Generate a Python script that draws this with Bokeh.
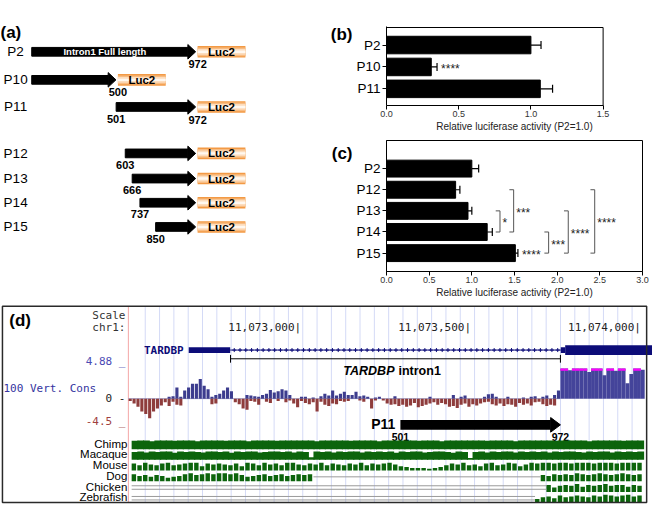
import numpy as np
from bokeh.plotting import figure
from bokeh.models import (Range1d, FixedTicker, NumeralTickFormatter,
                          Whisker, TeeHead, ColumnDataSource)
from bokeh.layouts import row, column
from bokeh.core.properties import value
from bokeh.embed import file_html
from bokeh.resources import INLINE

SANS = "Liberation Sans"
MONO = "DejaVu Sans Mono"

# ====================== DATA ======================
# (a) reporter constructs
constructs = ["P2", "P10", "P11", "P12", "P13", "P14", "P15"]
start_nt = [1, 1, 501, 603, 666, 737, 850]
end_nt = [972, 500, 972, 972, 972, 972, 972]
start_label = ["", "", "501", "603", "666", "737", "850"]
end_label = ["972", "500", "972", "", "", "", ""]
# the schematic is not to scale: start as drawn (nt units of the drawing)
start_drawn = [1, 1, 501, 555, 596, 642, 735]

# (b) luciferase activity
b_names = ["P2", "P10", "P11"]
b_mean = [1.00, 0.31, 1.065]
b_err = [0.07, 0.04, 0.085]
b_sig = ["", "****", ""]

# (c) luciferase activity
c_names = ["P2", "P12", "P13", "P14", "P15"]
c_mean = [1.00, 0.81, 0.955, 1.18, 1.51]
c_err = [0.08, 0.05, 0.045, 0.06, 0.03]
c_sig = ["", "", "", "", "****"]
br_from = ["P13", "P12", "P14", "P13", "P12"]
br_to = ["P14", "P14", "P15", "P15", "P15"]
br_label = ["*", "***", "***", "****", "****"]
br_x = [1.33, 1.49, 1.90, 2.13, 2.44]

# (d) genome browser view chr1
view_start, view_end = 11072124, 11074043
ruler_pos = [11073000, 11073500, 11074000]
exon1_start, exon1_end = 11072678, 11072800
intron_start, intron_end = 11072801, 11073772
exon2_start, cds_start = 11073773, 11073786
p11_from, p11_to = 501, 972
cons_start = 11072500
block_end = 11074020
cons_max, cons_min = 4.88, -4.5
cons_pos = [0, 0, 0, 0, 0, 0, 0, 0, 0, 0,
            0.3, 0.4, 1.8, 0.3, 1.3, 1.8, 2.4, 2.4, 3.2, 2.1,
            1.5, 0.3, 0.6, 0.8, 1.3, 1.8, 1.2, 0, 0, 0,
            0.6, 0.5, 0.4, 0.3, 0.6, 0.8, 1.4, 1.0, 1.2, 1.5,
            1.3, 0.6, 0, 0, 0.3, 0.3, 0, 0.2, 0, 0.4,
            0.8, 0.5, 1.3, 0.5, 0.8, 1.1, 0.6, 0.6, 1.1, 0.4,
            0.5, 0.3, 0, 0.2, 0.3, 0, 0, 0, 0.4, 0,
            0, 0, 0, 0, 0, 0, 0, 0.3, 0, 0,
            0, 0, 0, 0.6, 0, 0.3, 0.5, 0, 0, 0,
            0, 0.3, 0.7, 0.8, 0.3, 0, 0, 0.3, 0, 0,
            0, 0.2, 0, 0.3, 0.4, 0, 0.3, 0.5, 0, 0.6,
            1.3]
cons_neg = [-0.4, -0.8, -1.3, -2.1, -2.5, -3.2, -2.1, -1.6, -1.1, -0.6,
            -1.2, -0.5, -1.0, -1.1, 0, 0, 0, 0, 0, 0,
            0, -0.9, -0.8, 0, 0, 0, 0, -0.6, -0.9, -1.6,
            -1.8, -0.4, -0.5, -1.0, 0, -0.5, -0.7, 0, -0.4, 0,
            -0.6, -0.3, -0.8, -1.4, -0.4, -0.7, -0.9, -0.6, -2.1, -0.5,
            -1.0, -1.2, -0.8, -0.9, -0.4, -0.5, -0.4, 0, 0, -0.3,
            -0.5, 0, -1.6, -0.3, 0, -0.3, -0.8, -1.0, -0.9, -1.2,
            -1.0, -1.3, -1.1, -0.7, -1.4, -1.2, -1.0, -0.8, -0.6, -1.0,
            -0.7, -0.9, -1.3, -1.2, -1.5, -1.0, -0.8, -1.3, -0.9, -1.1,
            -0.8, -0.6, -0.5, -0.9, -1.1, -0.8, -1.2, -0.9, -1.0, -1.3,
            -0.7, -1.0, -0.8, -1.1, -0.6, -0.5, -0.9, -1.2, -1.0, -1.1,
            0]
cons_block = [4.88, 4.88, 4.6, 4.88, 4.88, 4.88, 4.88, 4.3, 4.88, 4.88, 4.88,
              3.8, 4.88, 4.88, 4.5, 4.88, 4.88, 2.5, 4.0, 4.88, 4.88, 4.7]

species = ["Chimp", "Macaque", "Mouse", "Dog", "Chicken", "Zebrafish"]
spec_start, spec_end = 11072510, 11074015
chimp = [0.95, 1, 1, 0.9, 1, 1, 1, 0.95, 1, 1,
         1, 0.9, 1, 1, 1, 1, 0.95, 1, 1, 1,
         0.9, 1, 1, 1, 1, 0.95, 1, 1, 1, 1,
         1, 1, 0.9, 1, 1, 1, 1, 1, 0.95, 1,
         1, 1, 1, 0.9, 1, 1, 1, 1, 1, 1,
         0.95, 1, 1, 1, 0.9, 1, 1, 1, 1, 1,
         1, 1, 0.95, 1, 1, 1, 1, 0.9, 1, 1,
         1, 1, 1, 1, 0.95, 1, 1, 1, 1, 1,
         0.9, 1, 1, 1, 1, 1, 0.95, 1, 1, 1]
macaque = [0.9, 0.95, 0.85, 0.95, 0.9, 0.95, 0.95, 0.8, 0.95, 0.9,
           0.95, 0.9, 0.85, 0.95, 0.95, 0.9, 0.95, 0.8, 0.95, 0.9,
           0.95, 0.95, 0.85, 0.9, 0.95, 0.95, 0.9, 0.95, 0.85, 0.95,
           0.9, 0.3, 0.95, 0.9, 0.95, 0.85, 0.95, 0.9, 0.95, 0.95,
           0.85, 0.95, 0.9, 0.95, 0.9, 0.95, 0.8, 0.95, 0.9, 0.95,
           0.95, 0.85, 0.9, 0.95, 0.95, 0.9, 0.8, 0.95, 0.9, 0.2,
           0.9, 0.95, 0.85, 0.95, 0.9, 0.95, 0.95, 0.85, 0.95, 0.9,
           0.95, 0.9, 0.95, 0.85, 0.95, 0.9, 0.95, 0.95, 0.9, 0.85,
           0.95, 0.9, 0.95, 0.95, 0.85, 0.95, 0.9, 0.95, 0.9, 0.95]
mouse = [0.8, 0.6, 0.9, 0.7, 0.6, 0.8, 0.9, 0.6, 0.7, 0.8,
         0.9, 0.9, 0.5, 0.8, 0.7, 0.8, 0.7, 0.6, 0.8, 0.5,
         0.9, 0.8, 0.6, 0.9, 0.7, 0.8, 0.6, 0.9, 0.9, 0.7,
         0.6, 0.8, 0.7, 0.9, 0.6, 0.8, 0.7, 0.6, 0.8, 0.7,
         0.9, 0.6, 0.8, 0.7, 0.8, 0.9, 0.7, 0.5, 0.4, 0.3,
         0.3, 0.3, 0.2, 0.3, 0.4, 0.6, 0.8, 0.7, 0.9, 0.6,
         0.7, 0.5, 0.8, 0.9, 0.6, 0.7, 0.9, 0.8, 0.5, 0.7,
         0.9, 0.8, 0.9, 0.9, 0.8, 0.9, 0.9, 0.8, 0.9, 0.9,
         0.9, 0.8, 0.9, 0.9, 0.9, 0.8, 0.9, 0.9, 0.9, 0.9]
dog = [0.8, 0.6, 0.7, 0.5, 0.7, 0.6, 0.4, 0.5, 0.6, 0.8,
       0.9, 0.7, 0.8, 0.9, 0.8, 0.9, 0.9, 0.8, 0.9, 0.7,
       0.5, 0.6, 0.7, 0.8, 0.6, 0.7, 0.8, 0.6, 0.7, 0.8,
       0.7, 0.8, 0, 0, 0, 0, 0, 0, 0, 0,
       0, 0, 0, 0, 0, 0, 0, 0, 0, 0,
       0, 0, 0, 0, 0, 0, 0, 0, 0, 0,
       0, 0, 0, 0, 0, 0, 0, 0, 0, 0,
       0, 0, 0.7, 0.6, 0.8, 0.7, 0.8, 0.7, 0.9, 0.8,
       0.7, 0.8, 0.9, 0.8, 0.7, 0.8, 0.9, 0.8, 0.7, 0.8]
chicken = [0, 0, 0, 0, 0, 0, 0, 0, 0, 0,
           0, 0, 0, 0, 0, 0, 0, 0, 0, 0,
           0, 0, 0, 0, 0, 0, 0, 0, 0, 0,
           0, 0, 0, 0, 0, 0, 0, 0, 0, 0,
           0, 0, 0, 0, 0, 0, 0, 0, 0, 0,
           0, 0, 0, 0, 0, 0, 0, 0, 0, 0,
           0, 0, 0, 0, 0, 0, 0, 0, 0, 0,
           0, 0, 0, 0.8, 0.5, 0.7, 0.8, 0.7, 0.9, 0.6,
           0.8, 0.7, 0.8, 0.9, 0.7, 0.8, 0.8, 0.6, 0.8, 0.7]
zebrafish = [0, 0, 0, 0, 0, 0, 0, 0, 0, 0,
             0, 0, 0, 0, 0, 0, 0, 0, 0, 0,
             0, 0, 0, 0, 0, 0, 0, 0, 0, 0,
             0, 0, 0, 0, 0, 0, 0, 0, 0, 0,
             0, 0, 0, 0, 0, 0, 0, 0, 0, 0,
             0, 0, 0, 0, 0, 0, 0, 0, 0, 0,
             0, 0, 0, 0, 0, 0, 0, 0, 0, 0,
             0, 0.4, 0.6, 0.7, 0.5, 0.8, 0.6, 0.7, 0.8, 0.7,
             0.6, 0.8, 0.7, 0.9, 0.8, 0.7, 0.8, 0.9, 0.7, 0.8]
species_vals = [chimp, macaque, mouse, dog, chicken, zebrafish]


# ====================== HELPERS ======================
def blank_fig(w, h, xr, yr):
    p = figure(width=w, height=h, x_range=xr, y_range=yr, output_backend="svg",
               toolbar_location=None, x_axis_type=None, y_axis_type=None,
               min_border=0)
    p.outline_line_color = None
    p.background_fill_color = "white"
    return p


def txt(p, x, y, t, size, align="center", color="black", style="normal",
        font=SANS, **kw):
    p.text(x=x, y=y, text=t, text_font=value(font), text_font_size=size,
           text_align=align, text_baseline="middle", text_color=color,
           text_font_style=style, **kw)


# ====================== PANEL (a) ======================
# left panel also carries the "(b)" / "(c)" letters at its right edge
nt_per_px = 971 / 168.0
PA_W = 353
sx = 322 / 330.0
pa = blank_fig(PA_W, 300,
               Range1d(1 - 32 * nt_per_px, 1 + (PA_W / sx - 32) * nt_per_px),
               Range1d(310, 0))
row_y = [53, 82, 110, 158, 184, 209, 234]
head = 8 * nt_per_px
luc_gap, luc_len = 2 * nt_per_px, 49 * nt_per_px

pa.quad(left=start_drawn, right=[e - head for e in end_nt],
        top=[y - 4.5 for y in row_y], bottom=[y + 4.5 for y in row_y],
        fill_color="black", line_color="black")
pa.patches(xs=[[e - head, e, e - head] for e in end_nt],
           ys=[[y - 7.5, y, y + 7.5] for y in row_y],
           fill_color="black", line_color="black")
for hh, col in [(12, "#F39A45"), (9, "#F8BC82"), (6, "#FCDDBE"), (2.5, "#FFF8F0")]:
    pa.quad(left=[e + luc_gap for e in end_nt],
            right=[e + luc_gap + luc_len for e in end_nt],
            top=[y - hh / 2 for y in row_y], bottom=[y + hh / 2 for y in row_y],
            fill_color=col, line_color=None)
txt(pa, [e + luc_gap + luc_len / 2 for e in end_nt], row_y, ["Luc2"] * 7,
    "11.5px", style="bold")
txt(pa, [1 - 16.5 * nt_per_px] * 7, row_y, constructs, "13.5px")
txt(pa, [s for s, l in zip(start_drawn, start_label) if l],
    [y + 12 for y, l in zip(row_y, start_label) if l],
    [l for l in start_label if l], "11px", style="bold")
txt(pa, [e + 2 * nt_per_px for e, l in zip(end_nt, end_label) if l],
    [y + 13 for y, l in zip(row_y, end_label) if l],
    [l for l in end_label if l], "11px", style="bold")
txt(pa, [(start_drawn[0] + end_nt[0] - head) / 2 - 5 * nt_per_px], [row_y[0]],
    ["Intron1 Full length"], "9.5px", color="white", style="bold")
txt(pa, [1 - 32 * nt_per_px], [33], ["(a)"], "17px", align="left", style="bold")
x_right = 1 + (PA_W / sx - 33) * nt_per_px
txt(pa, [x_right, x_right], [35, 158], ["(b)", "(c)"], "17px", align="right",
    style="bold")


# ====================== PANELS (b), (c) ======================
def bar_panel(names, mean, err, sig, xr, xmax, xticks, w, h, yr, borders,
              own_box=False):
    n = len(names)
    p = figure(width=w, height=h, x_range=xr, y_range=yr,
               output_backend="svg", toolbar_location=None,
               min_border_left=borders[0], min_border_right=borders[1],
               min_border_top=borders[2], min_border_bottom=borders[3])
    ys = list(range(n))
    src = ColumnDataSource(dict(y=ys, mean=mean,
                                hi=[m + e for m, e in zip(mean, err)], sig=sig))
    p.hbar(y="y", left=0, right="mean", height=0.8, source=src,
           fill_color="black", line_color="black")
    p.add_layout(Whisker(source=src, base="y", lower="mean", upper="hi",
                         dimension="width", line_color="black", line_width=1.2,
                         upper_head=TeeHead(size=8, line_color="black", line_width=1.2),
                         lower_head=None))
    p.text(x="hi", y="y", text="sig", source=src, x_offset=4, y_offset=2,
           text_font=value(SANS), text_font_size="12px", text_baseline="middle",
           text_color="#222222")
    if own_box:
        # plot box drawn up to the axis maximum (frame is wider than the box)
        p.outline_line_color = None
        top = yr.end + 0.046
        p.segment(x0=[0, xmax], x1=[xmax, xmax], y0=[top, top], y1=[top, yr.start],
                  line_color="black", line_width=1)
        p.xaxis.bounds = (0, xmax)
    else:
        p.outline_line_color = "black"
        p.outline_line_width = 1
    p.grid.visible = False
    p.xaxis.ticker = FixedTicker(ticks=xticks)
    p.xaxis.formatter = NumeralTickFormatter(format="0.0")
    p.xaxis.axis_label = "Relative luciferase activity (P2=1.0)"
    p.xaxis.axis_label_text_font = SANS
    p.xaxis.axis_label_text_font_style = "normal"
    p.xaxis.axis_label_text_font_size = "10px"
    p.xaxis.axis_label_text_color = "#222222"
    p.xaxis.axis_label_standoff = 1
    p.xaxis.major_label_text_font_size = "9px"
    p.xaxis.major_label_text_font = SANS
    p.xaxis.major_label_text_color = "#333333"
    p.xaxis.major_label_standoff = 1
    p.yaxis.ticker = FixedTicker(ticks=ys)
    p.yaxis.major_label_overrides = {i: nm for i, nm in enumerate(names)}
    p.yaxis.major_label_text_font = SANS
    p.yaxis.major_label_text_font_size = "13.5px"
    p.yaxis.major_label_text_color = "black"
    p.yaxis.major_label_standoff = 2
    p.axis.major_tick_in = 0
    p.axis.major_tick_out = 4
    p.axis.minor_tick_out = 0
    p.axis.minor_tick_in = 0
    p.axis.axis_line_color = "black"
    p.axis.major_tick_line_color = "black"
    return p


PB_W = 652 - PA_W
LB = 382 - PA_W
FR_C = 260
pb = bar_panel(b_names, b_mean, b_err, b_sig, Range1d(0, 1.5 * FR_C / 220), 1.5,
               [0, 0.5, 1.0, 1.5], PB_W, 136, Range1d(2.76, -0.8 - 0.046),
               (LB, PB_W - LB - FR_C, 26, 31), own_box=True)
pc = bar_panel(c_names, c_mean, c_err, c_sig, Range1d(0, 3.0), 3.0,
               [0, 0.5, 1.0, 1.5, 2.0, 2.5, 3.0],
               PB_W, 164, Range1d(4.87, -1.33), (LB, PB_W - LB - FR_C, 4, 29))
yi = {nm: i for i, nm in enumerate(c_names)}
y0 = [yi[a] for a in br_from]
y1 = [yi[b] for b in br_to]
pc.segment(x0=br_x, x1=br_x, y0=y0, y1=y1, line_color="#555555", line_width=1)
pc.segment(x0=[x - 0.05 for x in br_x] * 2, x1=br_x * 2, y0=y0 + y1, y1=y0 + y1,
           line_color="#555555", line_width=1)
pc.text(x=[x + 0.03 for x in br_x], y=[(a + b) / 2 for a, b in zip(y0, y1)],
        text=br_label, y_offset=2, text_font=value(SANS), text_font_size="12px",
        text_baseline="middle", text_color="#222222")


# ====================== PANEL (d) ======================
pd_ = blank_fig(652, 205, Range1d(0, 668), Range1d(521, 310))
pd_.extra_x_ranges = {"g": Range1d(view_start, view_end)}
BASE_Y, PX_PER_UNIT = 411, 6.35
pd_.extra_y_ranges = {"cons": Range1d((BASE_Y - 521) / PX_PER_UNIT,
                                      (BASE_Y - 310) / PX_PER_UNIT)}
G = dict(x_range_name="g")
GC = dict(x_range_name="g", y_range_name="cons")

# guide lines
gxs = np.arange(148.3, 660, 14.67)
pd_.segment(x0=gxs, x1=gxs, y0=316, y1=518, line_color="#D4DAF6", line_width=1)
pd_.segment(x0=[131], x1=[131], y0=[316], y1=[518], line_color="#F4A6A6", line_width=1)

# labels / ruler
txt(pd_, [9], [331], ["(d)"], "17px", align="left", style="bold")
txt(pd_, [128, 128], [325, 338], ["Scale", "chr1:"], "11px", align="right",
    color="#333333", font=MONO)
txt(pd_, ruler_pos, [338] * 3, [f"{v:,}|" for v in ruler_pos], "11px",
    align="right", color="#222222", font=MONO, x_offset=3, **G)

# gene model
NAVY = "#0C0C78"
txt(pd_, [exon1_start], [361], ["TARDBP"], "11px", align="right", color=NAVY,
    style="bold", font=MONO, x_offset=-5, **G)
pd_.segment(x0=[exon1_end], x1=[exon2_start], y0=[361], y1=[361],
            line_color=NAVY, line_width=1, **G)
marks = np.arange(exon1_end + 12, exon2_start - 5, 17)
pd_.scatter(x=marks, y=[361] * len(marks), marker="cross", size=4,
            line_color=NAVY, line_width=1, **G)
pd_.quad(left=[exon1_start, exon2_start, cds_start],
         right=[exon1_end, cds_start, view_end],
         top=[358, 358, 356], bottom=[364, 364, 366],
         fill_color=NAVY, line_color=None, **G)
pd_.segment(x0=[intron_start, intron_start, intron_end],
            x1=[intron_end, intron_start, intron_end],
            y0=[370, 366, 366], y1=[370, 374, 374],
            line_color="black", line_width=1, **G)
mid = (intron_start + intron_end) / 2
txt(pd_, [mid], [383], ["TARDBP"], "12.5px", align="right", style="bold italic",
    x_offset=-1, **G)
txt(pd_, [mid], [383], ["intron1"], "12.5px", align="left", style="bold",
    x_offset=3, **G)

# conservation track
BLUE, RED = "#3C3C8E", "#8E3C3C"
txt(pd_, [128], [373], [f"{cons_max} _"], "11px", align="right", color="#4A4AB4", font=MONO)
txt(pd_, [3], [401], ["100 Vert. Cons"], "11px", align="left", color="#3434A0", font=MONO)
txt(pd_, [128], [411], ["0 -"], "11px", align="right", color="#222222", font=MONO)
txt(pd_, [128], [435], [f"{cons_min} _"], "11px", align="right", color="#A04040", font=MONO)

n_c = len(cons_pos)
ce = np.linspace(cons_start, intron_end, n_c + 1)
cc = (ce[:-1] + ce[1:]) / 2
cw = (ce[1] - ce[0]) * 0.8
pd_.segment(x0=[cons_start], x1=[intron_end], y0=[0], y1=[0],
            line_color="#A6A6CC", line_width=1, **GC)
pd_.vbar(x=cc, width=cw, bottom=0, top=cons_pos, fill_color=BLUE, line_color=None, **GC)
pd_.vbar(x=cc, width=cw, bottom=cons_neg, top=0, fill_color=RED, line_color=None, **GC)
be = np.linspace(intron_end, block_end, len(cons_block) + 1)
pd_.quad(left=be[:-1], right=be[1:], bottom=0, top=cons_block,
         fill_color="#44449A", line_color=None, **GC)
clip = [i for i, v in enumerate(cons_block) if v >= cons_max]
pd_.quad(left=be[clip], right=be[np.array(clip) + 1],
         bottom=[cons_max - 0.35] * len(clip), top=[cons_max] * len(clip),
         fill_color="#FF00FF", line_color=None, **GC)

# P11 region arrow
a0 = intron_start + p11_from - 1
a1 = intron_start + p11_to - 1
hd = 10 * 500 / 174
pd_.quad(left=[a0], right=[a1 - hd], top=[433], bottom=[443],
         fill_color="black", line_color=None, **G)
pd_.patches(xs=[[a1 - hd, a1, a1 - hd]], ys=[[430.5, 438, 445.5]],
            fill_color="black", line_color="black", **G)
txt(pd_, [a0], [437], ["P11"], "14px", align="right", style="bold", x_offset=-5, **G)
txt(pd_, [a0, a1], [451, 451], [str(p11_from), str(p11_to)], "10.5px",
    style="bold", **G)

# species alignment tracks
GREEN = "#0C640C"
band_top = [454, 465, 476, 487, 498, 509]
band_h = 9
se = np.linspace(spec_start, spec_end, len(chimp) + 1)
bw = se[1] - se[0]
for k, (nm, vals) in enumerate(zip(species, species_vals)):
    bt = band_top[k]
    bb = bt + band_h
    idx = [i for i, v in enumerate(vals) if v > 0]
    solid = nm in ("Chimp", "Macaque")
    right = se[np.array(idx) + 1] + (0.2 * bw if solid else -0.22 * bw)
    pd_.quad(left=se[idx], right=right,
             top=[bb - vals[i] * band_h for i in idx], bottom=[bb] * len(idx),
             fill_color=GREEN, line_color=None, **G)
    # gaps (no alignment) drawn as thin grey lines
    runs, i = [], 0
    while i < len(vals):
        if vals[i] == 0:
            j = i
            while j < len(vals) and vals[j] == 0:
                j += 1
            runs.append((se[i], se[j]))
            i = j
        else:
            i += 1
    offs = [0] if nm == "Dog" else [-1.8, 1.8]
    for (r0, r1) in runs:
        for o in offs:
            pd_.segment(x0=[r0], x1=[r1], y0=[bt + band_h / 2 + o],
                        y1=[bt + band_h / 2 + o], line_color="#9A9A9A",
                        line_width=1, **G)
    txt(pd_, [130], [bt + band_h / 2 - 1], [nm], "11.5px", align="right")

pd_.quad(left=[2], right=[662], top=[316], bottom=[518], fill_color=None,
         line_color="#2A2A2A", line_width=1.5)

layout = column(row(pa, column(pb, pc)), pd_)
open("out.html", "w").write(file_html(layout, INLINE))
